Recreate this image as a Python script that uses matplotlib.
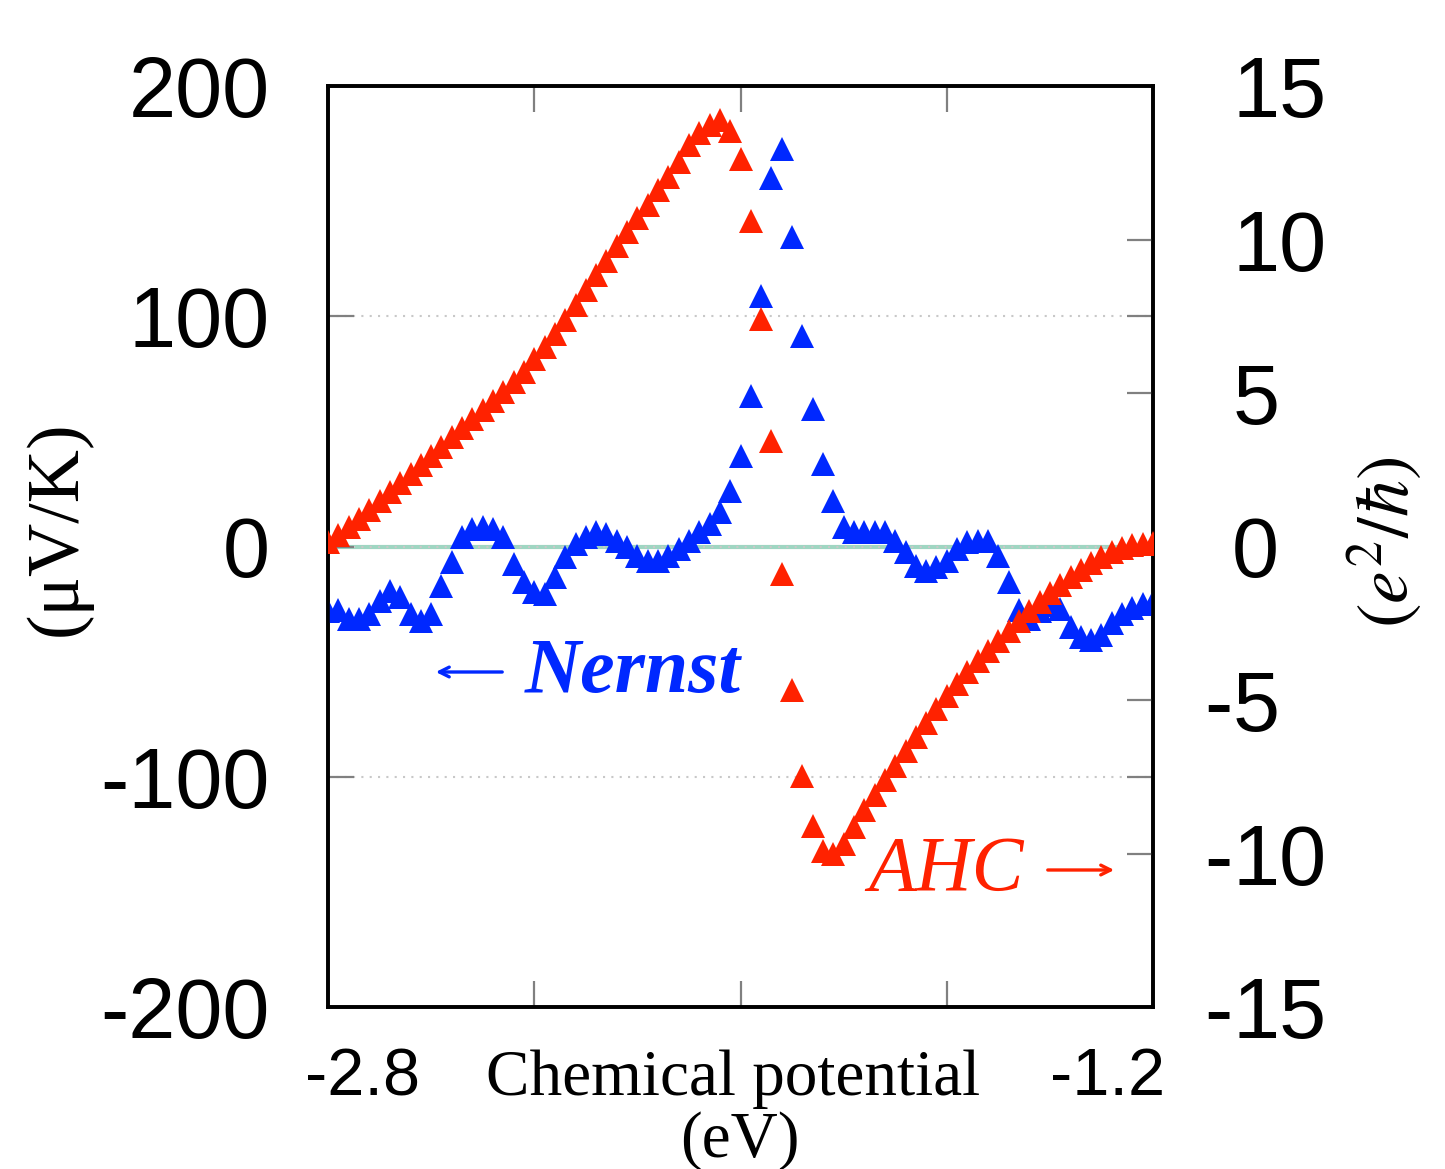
import numpy as np
import matplotlib.pyplot as plt

plt.rcParams['mathtext.fontset'] = 'stix'

# chemical potential grid (eV), 0.02 eV step
mu = np.linspace(-2.8, -1.2, 81)

# Nernst coefficient (uV/K), left axis
nernst = [-28.0, -27.5, -31.5, -31.5, -29.3, -23.6, -19.3, -21.9, -29.3, -32.3,
          -29.3, -17.1, -6.7, 4.1, 7.6, 8.5, 7.6, 4.1, -7.6, -15.4,
          -19.7, -20.6, -13.2, -4.6, 1.1, 4.1, 6.3, 5.4, 2.4, -0.2,
          -4.1, -6.3, -6.3, -4.1, -1.1, 2.4, 6.3, 9.8, 15.0, 24.1,
          39.3, 65.3, 108.7, 159.9, 172.5, 134.3, 91.3, 59.6, 35.8, 19.7,
          8.5, 6.3, 6.3, 6.3, 6.3, 2.4, -2.4, -8.5, -10.6, -8.9,
          -6.3, -1.1, 2.0, 2.4, 2.4, -4.1, -15.4, -27.5, -31.5, -28.0,
          -25.4, -27.1, -34.9, -39.3, -40.6, -38.4, -33.2, -29.3, -26.7, -25.0,
          -24.1]

# anomalous Hall conductivity (e^2/h), right axis
ahc = [0.15, 0.37, 0.63, 0.89, 1.19, 1.48, 1.77, 2.07, 2.36, 2.65,
       2.95, 3.24, 3.56, 3.86, 4.15, 4.44, 4.74, 5.03, 5.35, 5.68,
       6.10, 6.49, 6.92, 7.37, 7.86, 8.35, 8.83, 9.29, 9.78, 10.23,
       10.69, 11.14, 11.60, 12.05, 12.54, 13.07, 13.46, 13.72, 13.88, 13.52,
       12.61, 10.59, 7.40, 3.43, -0.89, -4.67, -7.47, -9.10, -9.91, -10.01,
       -9.68, -9.13, -8.57, -8.09, -7.60, -7.14, -6.65, -6.20, -5.74, -5.29,
       -4.86, -4.47, -4.08, -3.73, -3.40, -3.08, -2.75, -2.43, -2.10, -1.81,
       -1.51, -1.25, -0.99, -0.76, -0.54, -0.34, -0.18, -0.05, 0.05, 0.08,
       0.11]

x_ticks = [-2.8, -2.4, -2.0, -1.6, -1.2]
left_ticks = [-200, -100, 0, 100, 200]
left_labels = ['-200', '-100', '0', '100', '200']
right_ticks = [-15, -10, -5, 0, 5, 10, 15]

W, H = 1445, 1169
blue = '#0028ff'
red = '#ff2200'
serif = ['Liberation Serif', 'DejaVu Serif']
sans = 'Liberation Sans'


def fpos(x, y):
    # pixel position (from top-left) -> figure fraction
    return x / W, 1 - y / H


fig = plt.figure(figsize=(W / 100, H / 100), dpi=100)
ax = fig.add_axes([328 / W, 1 - 1007 / H, (1153 - 328) / W, (1007 - 86) / H])
ax2 = ax.twinx()

ax.grid(axis='y', linestyle=(0, (1, 3)), color='#c8c8c8', lw=1.5)
ax.axhline(0, color='#9fd6c2', lw=3, zorder=1)
ax.plot(mu, nernst, '^', color=blue, ms=17, mew=0, zorder=3)
ax2.plot(mu, ahc, '^', color=red, ms=17, mew=0, zorder=3)

ax.set_xlim(-2.8, -1.2)
ax.set_ylim(-200, 200)
ax2.set_ylim(-15, 15)

ax.set_xticks(x_ticks)
ax.set_xticklabels([])
ax.set_yticks(left_ticks)
ax.set_yticklabels(left_labels, fontsize=61, family=sans)
ax.tick_params(direction='in', length=19, width=1.6, color='#808080',
               top=True, right=True, labelright=False)
ax.tick_params(axis='y', pad=42)
ax2.set_yticks(right_ticks)
ax2.set_yticklabels([])
ax2.tick_params(direction='in', length=19, width=1.6, color='#808080')

for a in (ax, ax2):
    for s in a.spines.values():
        s.set_linewidth(2.6)
        s.set_color('black')

# right tick labels: digits aligned, minus sign hanging to the left
for v in right_ticks:
    ax2.annotate(str(abs(v)), xy=(1, v), xycoords=ax2.get_yaxis_transform(),
                 xytext=(57, 0), textcoords='offset points', ha='left',
                 va='center_baseline', fontsize=61, family=sans)
    if v < 0:
        ax2.annotate('-', xy=(1, v), xycoords=ax2.get_yaxis_transform(),
                     xytext=(57, 0), textcoords='offset points', ha='right',
                     va='center_baseline', fontsize=61, family=sans)

# bottom labels
fig.text(*fpos(305, 1095), '-2.8', ha='left', va='baseline', fontsize=48, family=sans)
fig.text(*fpos(1165, 1095), '-1.2', ha='right', va='baseline', fontsize=48, family=sans)
fig.text(*fpos(733, 1095), 'Chemical potential', ha='center', va='baseline',
         fontsize=47, family=serif)
fig.text(*fpos(740, 1157), '(eV)', ha='center', va='baseline', fontsize=47, family=serif)

# axis titles
fig.text(*fpos(58, 528), '(\u03bcV/K)', rotation=90, ha='center', va='center',
         fontsize=53, family=serif)
fig.text(*fpos(1385, 542), r'$(e^2/\hbar)$', rotation=90, ha='center', va='center',
         fontsize=53)

# curve labels with thin arrows
fig.text(*fpos(525, 692), 'Nernst', ha='left', va='baseline', fontsize=56,
         family=serif, style='italic', weight='bold', color=blue)
fig.text(*fpos(868, 890), 'AHC', ha='left', va='baseline', fontsize=56,
         family=serif, style='italic', color=red)
arrow = dict(arrowstyle='->,head_length=0.7,head_width=0.35', lw=2.4)
fig.add_artist(plt.Annotation('', xy=fpos(433, 672), xytext=fpos(505, 672),
                              xycoords='figure fraction',
                              arrowprops=dict(arrow, color=blue)))
fig.add_artist(plt.Annotation('', xy=fpos(1117, 870), xytext=fpos(1045, 870),
                              xycoords='figure fraction',
                              arrowprops=dict(arrow, color=red)))

fig.savefig('out.png', dpi=100)
